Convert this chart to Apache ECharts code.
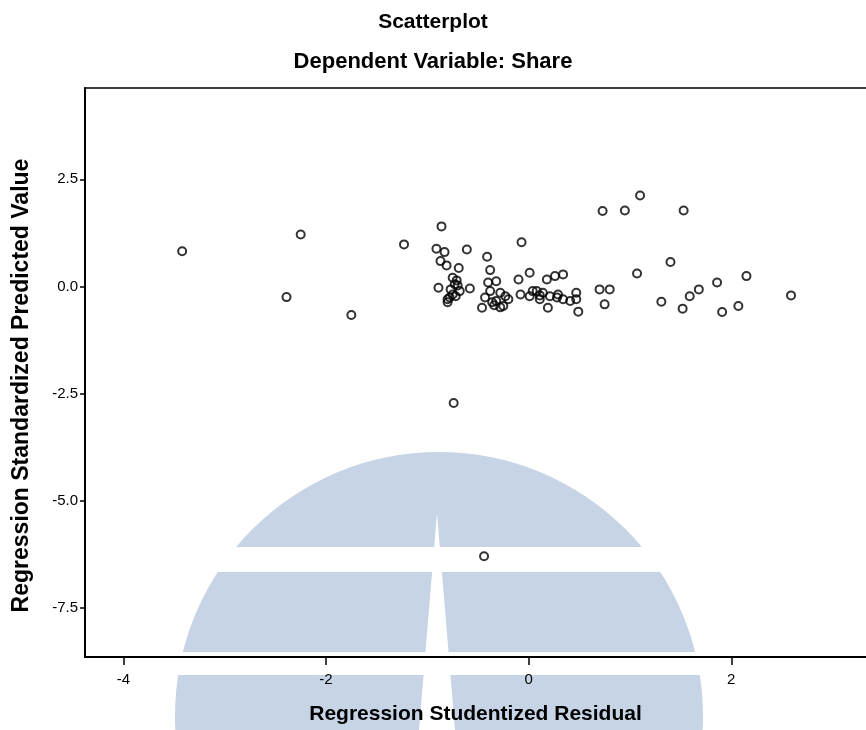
<!DOCTYPE html>
<html>
<head>
<meta charset="utf-8">
<script src="https://cdn.jsdelivr.net/npm/echarts@6/dist/echarts.min.js"></script>
<style>
  html, body { margin: 0; padding: 0; background: #fff; }
  #chart { width: 866px; height: 730px; }
</style>
</head>
<body>
<div id="chart"></div>
<script>
// studentized residuals (x) and standardized predicted values (y)
const residual = [
  -3.42, -2.25, -2.39, -1.75, -1.23,
  -0.86, -0.91, -0.83, -0.61, -0.87, -0.81, -0.69, -0.75, -0.71, -0.89, -0.73, -0.58, -0.78, -0.75, -0.68, -0.80, -0.72,
  -0.77, -0.80, -0.70,
  -0.41, -0.38, -0.40, -0.32, -0.38, -0.28, -0.23, -0.25, -0.46, -0.43, -0.32, -0.34,
  -0.36, -0.28, -0.20,
  -0.07, 0.01, -0.10, -0.08, 0.04, 0.18, 0.26, 0.34, 0.08, 0.14, 0.21, 0.28, 0.34, 0.41, 0.19, 0.47, 0.47, 0.49, 0.11,
  0.11, 0.01, 0.29,
  0.70, 0.80, 0.75, 0.73, 0.95, 1.10, 1.53, 1.40, 1.07, 1.31, 1.52, 1.59, 1.68, 1.86, 1.91, 2.07, 2.15, 2.59,
  -0.74, -0.44
]
const predicted = [
  0.82, 1.21, -0.25, -0.67, 0.98,
  1.40, 0.88, 0.80, 0.86, 0.59, 0.49, 0.43, 0.20, 0.14, -0.03, 0.05, -0.05, -0.26, -0.19, -0.11, -0.30, -0.23,
  -0.07, -0.37, 0.02,
  0.69, 0.38, 0.09, 0.12, -0.11, -0.15, -0.23, -0.46, -0.50, -0.26, -0.34, -0.44,
  -0.37, -0.49, -0.30,
  1.03, 0.32, 0.16, -0.19, -0.11, 0.16, 0.24, 0.28, -0.11, -0.15, -0.23, -0.26, -0.30, -0.34, -0.50, -0.15, -0.30, -0.59, -0.21,
  -0.30, -0.23, -0.19,
  -0.07, -0.07, -0.42, 1.76, 1.77, 2.12, 1.77, 0.57, 0.30, -0.36, -0.52, -0.23, -0.07, 0.09, -0.60, -0.46, 0.24, -0.21,
  -2.72, -6.30
]
const xTicks = [-4, -2, 0, 2]
const yTicks = [-7.5, -5, -2.5, 0, 2.5]

function start(){
  var myChart = echarts.init(document.getElementById('chart'), null, {renderer: 'canvas'})
  let points = residual.map((x, i) => [x, predicted[i]])
  let font = '"Liberation Sans", Arial, sans-serif'
  let blue = '#c6d4e6'
  let xMin = -4.379, xMax = 3.33

  var option = {
    animation: false,
    backgroundColor: '#fff',
    title: [
      {
        text: 'Scatterplot',
        left: 'center',
        top: 7,
        textStyle: {fontFamily: font, fontSize: 21, fontWeight: 'bold', color: '#000'}
      },
      {
        text: 'Dependent Variable: Share',
        left: 'center',
        top: 46,
        textStyle: {fontFamily: font, fontSize: 22, fontWeight: 'bold', color: '#000'}
      }
    ],
    // watermark logo behind the plot
    graphic: [
      {type: 'circle', z: -10, shape: {cx: 439, cy: 716, r: 264}, style: {fill: blue}},
      {type: 'rect', z: -9, shape: {x: 150, y: 547, width: 580, height: 25}, style: {fill: '#fff'}},
      {type: 'rect', z: -9, shape: {x: 150, y: 652, width: 580, height: 23}, style: {fill: '#fff'}},
      {type: 'polygon', z: -9, shape: {points: [[437, 513], [419, 730], [455, 730]]}, style: {fill: '#fff'}}
    ],
    grid: {
      left: 85,
      top: 88,
      right: 0,
      bottom: 71
    },
    xAxis: [
      {
        type: 'value',
        min: xMin,
        max: xMax,
        splitLine: {show: false},
        axisLine: {onZero: false, lineStyle: {color: '#000', width: 2}},
        axisTick: {show: true, length: 8, customValues: xTicks, lineStyle: {color: '#000', width: 1.5}},
        axisLabel: {customValues: xTicks, color: '#000', fontFamily: font, fontSize: 15, margin: 15},
        name: 'Regression Studentized Residual',
        nameLocation: 'middle',
        nameGap: 47,
        nameTextStyle: {fontFamily: font, fontSize: 21, fontWeight: 'bold', color: '#000'}
      },
      {
        // top frame line
        type: 'value',
        position: 'top',
        min: xMin,
        max: xMax,
        splitLine: {show: false},
        axisLine: {onZero: false, lineStyle: {color: '#000', width: 1.5}},
        axisTick: {show: false},
        axisLabel: {show: false}
      }
    ],
    yAxis: {
      type: 'value',
      min: -8.65,
      max: 4.63,
      splitLine: {show: false},
      axisLine: {onZero: false, lineStyle: {color: '#000', width: 2}},
      axisTick: {show: true, length: 5, customValues: yTicks, lineStyle: {color: '#000', width: 1.5}},
      axisLabel: {
        customValues: yTicks,
        color: '#000',
        fontFamily: font,
        fontSize: 15,
        margin: 7,
        formatter: function (v) { return v.toFixed(1) }
      },
      name: 'Regression Standardized Predicted Value',
      nameLocation: 'middle',
      nameGap: 52,
      nameTextStyle: {fontFamily: font, fontSize: 23, fontWeight: 'bold', color: '#000', padding: [0, 26, 0, 0]}
    },
    series: [
      {
        type: 'scatter',
        data: points,
        symbol: 'circle',
        symbolSize: 8,
        itemStyle: {color: 'rgba(0,0,0,0)', borderColor: '#000', borderWidth: 2},
        emphasis: {disabled: true}
      }
    ]
  }
  myChart.setOption(option)
}
window.addEventListener('load', start, false)
</script>
</body>
</html>
